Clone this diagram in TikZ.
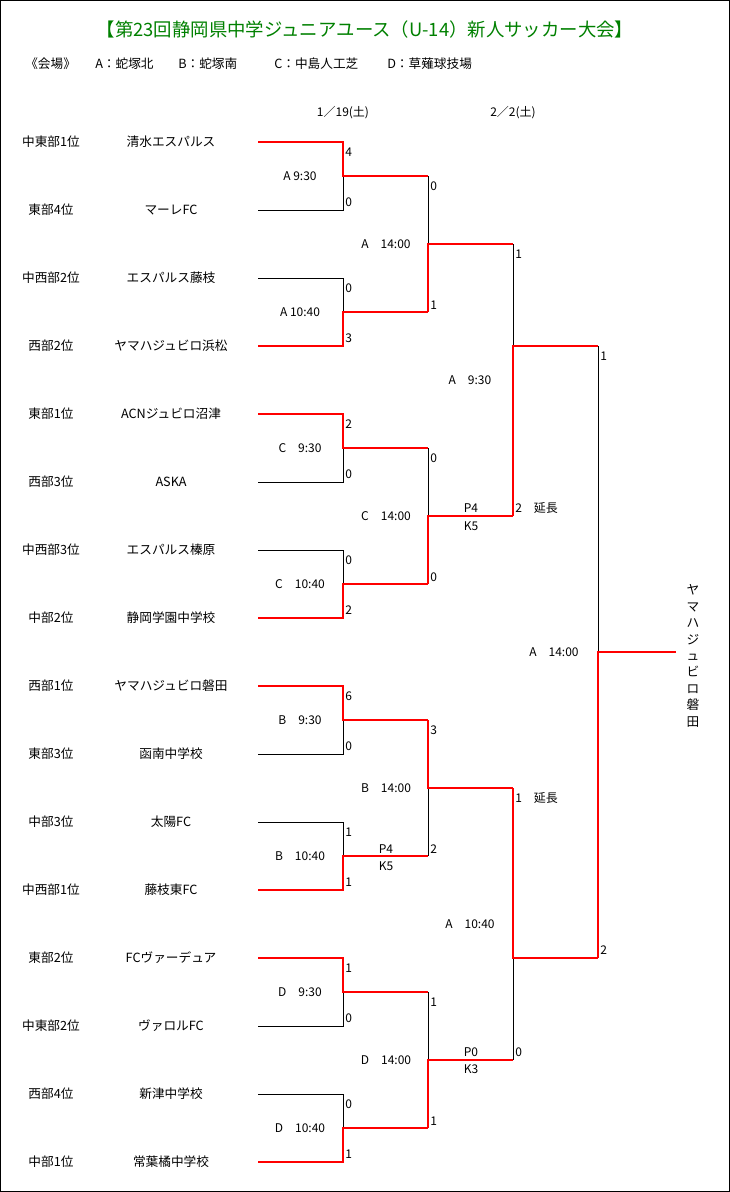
\documentclass[tikz,border=0pt]{standalone}
\usepackage{fontspec}
\setmainfont{Noto Sans CJK JP}
\usetikzlibrary{calc}
\definecolor{titlegreen}{RGB}{0,128,0}
\tikzset{
  seed/.style={inner sep=0pt, font=\fontsize{9.5}{11}\selectfont},
  team/.style={inner sep=0pt, font=\fontsize{9.5}{11}\selectfont},
  score/.style={anchor=west, inner sep=0pt, font=\fontsize{9}{10}\selectfont},
  match/.style={inner sep=0pt, font=\fontsize{9}{10}\selectfont},
  lose/.style={black, line width=0.75pt},
  win/.style={red, line width=1.5pt},
}

\begin{document}
\begin{tikzpicture}[x=0.75pt, y=-0.75pt]
    \useasboundingbox (0,0) rectangle (730,1192);
    \draw[line width=0.75pt] (0.5,0.5) rectangle (729.5,1191.5);

    % heading
    \node[text=titlegreen, font=\fontsize{13.8}{15}\selectfont] (title) at (365,30) {【第23回静岡県中学ジュニアユース（U-14）新人サッカー大会】};
    \node[seed, anchor=west] (v0) at (25,64)  {《会場》};
    \node[seed, anchor=west] (v1) at (95,64)  {A：蛇塚北};
    \node[seed, anchor=west] (v2) at (178,64) {B：蛇塚南};
    \node[seed, anchor=west] (v3) at (274,64) {C：中島人工芝};
    \node[seed, anchor=west] (v4) at (387,64) {D：草薙球技場};
    \node[match] (day1) at (343,113) {1／19(土)};
    \node[match] (day2) at (513,113) {2／2(土)};

    % teams
    \foreach \i/\s/\t in {1/中東部1位/清水エスパルス, 2/東部4位/マーレFC,
        3/中西部2位/エスパルス藤枝, 4/西部2位/ヤマハジュビロ浜松,
        5/東部1位/ACNジュビロ沼津, 6/西部3位/ASKA,
        7/中西部3位/エスパルス榛原, 8/中部2位/静岡学園中学校,
        9/西部1位/ヤマハジュビロ磐田, 10/東部3位/函南中学校,
        11/中部3位/太陽FC, 12/中西部1位/藤枝東FC,
        13/東部2位/FCヴァーデュア, 14/中東部2位/ヴァロルFC,
        15/西部4位/新津中学校, 16/中部1位/常葉橘中学校} {
      \node[seed] (s\i) at (51,{142+68*(\i-1)}) {\s};
      \node[team] (t\i) at (171,{142+68*(\i-1)}) {\t};
      \coordinate (e\i) at (258,{142+68*(\i-1)});
    }
    \foreach \j in {1,...,8} {
      \coordinate (a\j) at (343,{176+136*(\j-1)});
      \coordinate (b\j) at (428,{176+136*(\j-1)});
    }
    \foreach \k in {1,...,4} {
      \coordinate (c\k) at (428,{244+272*(\k-1)});
      \coordinate (d\k) at (513,{244+272*(\k-1)});
    }
    \coordinate (g1) at (513,346);
    \coordinate (g2) at (513,958);
    \coordinate (h1) at (598,346);
    \coordinate (h2) at (598,958);
    \coordinate (fj) at (598,652);
    \coordinate (champ) at (676,652);

    % bracket
    \foreach \w/\l/\j in {1/2/1, 4/3/2, 5/6/3, 8/7/4, 9/10/5, 12/11/6, 13/14/7, 16/15/8} {
      \draw[lose] (e\l) -| (a\j);
      \draw[win] (e\w) -| (a\j) -- (b\j);
    }
    \foreach \w/\l/\k in {2/1/1, 4/3/2, 5/6/3, 8/7/4} {
      \draw[lose] (b\l) -- (c\k);
      \draw[win] (b\w) -- (c\k) -- (d\k);
    }
    \draw[lose] (d1) -- (g1);
    \draw[win] (d2) -- (g1) -- (h1);
    \draw[lose] (d4) -- (g2);
    \draw[win] (d3) -- (g2) -- (h2);
    \draw[lose] (h1) -- (fj);
    \draw[win] (h2) -- (fj) -- (champ);

    % scores
    \foreach \x/\y/\s [count=\n] in {345/152/4, 345/202/0, 345/288/0, 345/338/3,
        345/424/2, 345/474/0, 345/560/0, 345/610/2, 345/696/6, 345/746/0,
        345/832/1, 345/882/1, 345/968/1, 345/1018/0, 345/1104/0, 345/1154/1,
        430/186/0, 430/305/1, 430/458/0, 430/577/0, 430/730/3, 430/849/2,
        430/1002/1, 430/1121/1, 515/254/1, 515/508/2\quad 延長,
        515/798/1\quad 延長, 515/1052/0, 600/356/1, 600/950/2} {
      \node[score] (sc\n) at (\x,\y) {\s};
    }

    % match times
    \node[match] (m1) at (300,176)  {A 9:30};
    \node[match] (m2) at (300,312)  {A 10:40};
    \node[match] (m3) at (300,448)  {C\quad 9:30};
    \node[match] (m4) at (300,584)  {C\quad 10:40};
    \node[match] (m5) at (300,720)  {B\quad 9:30};
    \node[match] (m6) at (300,856)  {B\quad 10:40};
    \node[match] (m7) at (300,992)  {D\quad 9:30};
    \node[match] (m8) at (300,1128) {D\quad 10:40};
    \node[match] (q1) at (386,244)  {A\quad 14:00};
    \node[match] (q2) at (386,516)  {C\quad 14:00};
    \node[match] (q3) at (386,788)  {B\quad 14:00};
    \node[match] (q4) at (386,1060) {D\quad 14:00};
    \node[match] (sf1) at (470,380) {A\quad 9:30};
    \node[match] (sf2) at (470,924) {A\quad 10:40};
    \node[match] (fin) at (554,652) {A\quad 14:00};

    % penalty kicks
    \node[match] (pk1) at (386,849)  {P4};
    \node[match] (kk1) at (386,866)  {K5};
    \node[match] (pk2) at (471,508)  {P4};
    \node[match] (kk2) at (471,526)  {K5};
    \node[match] (pk3) at (471,1052) {P0};
    \node[match] (kk3) at (471,1069) {K3};

    \node[team, align=center, font=\fontsize{9.5}{12.3}\selectfont] (winner) at (693,656)
      {ヤ\\マ\\ハ\\ジ\\ュ\\ビ\\ロ\\磐\\田};
\end{tikzpicture}
\end{document}
